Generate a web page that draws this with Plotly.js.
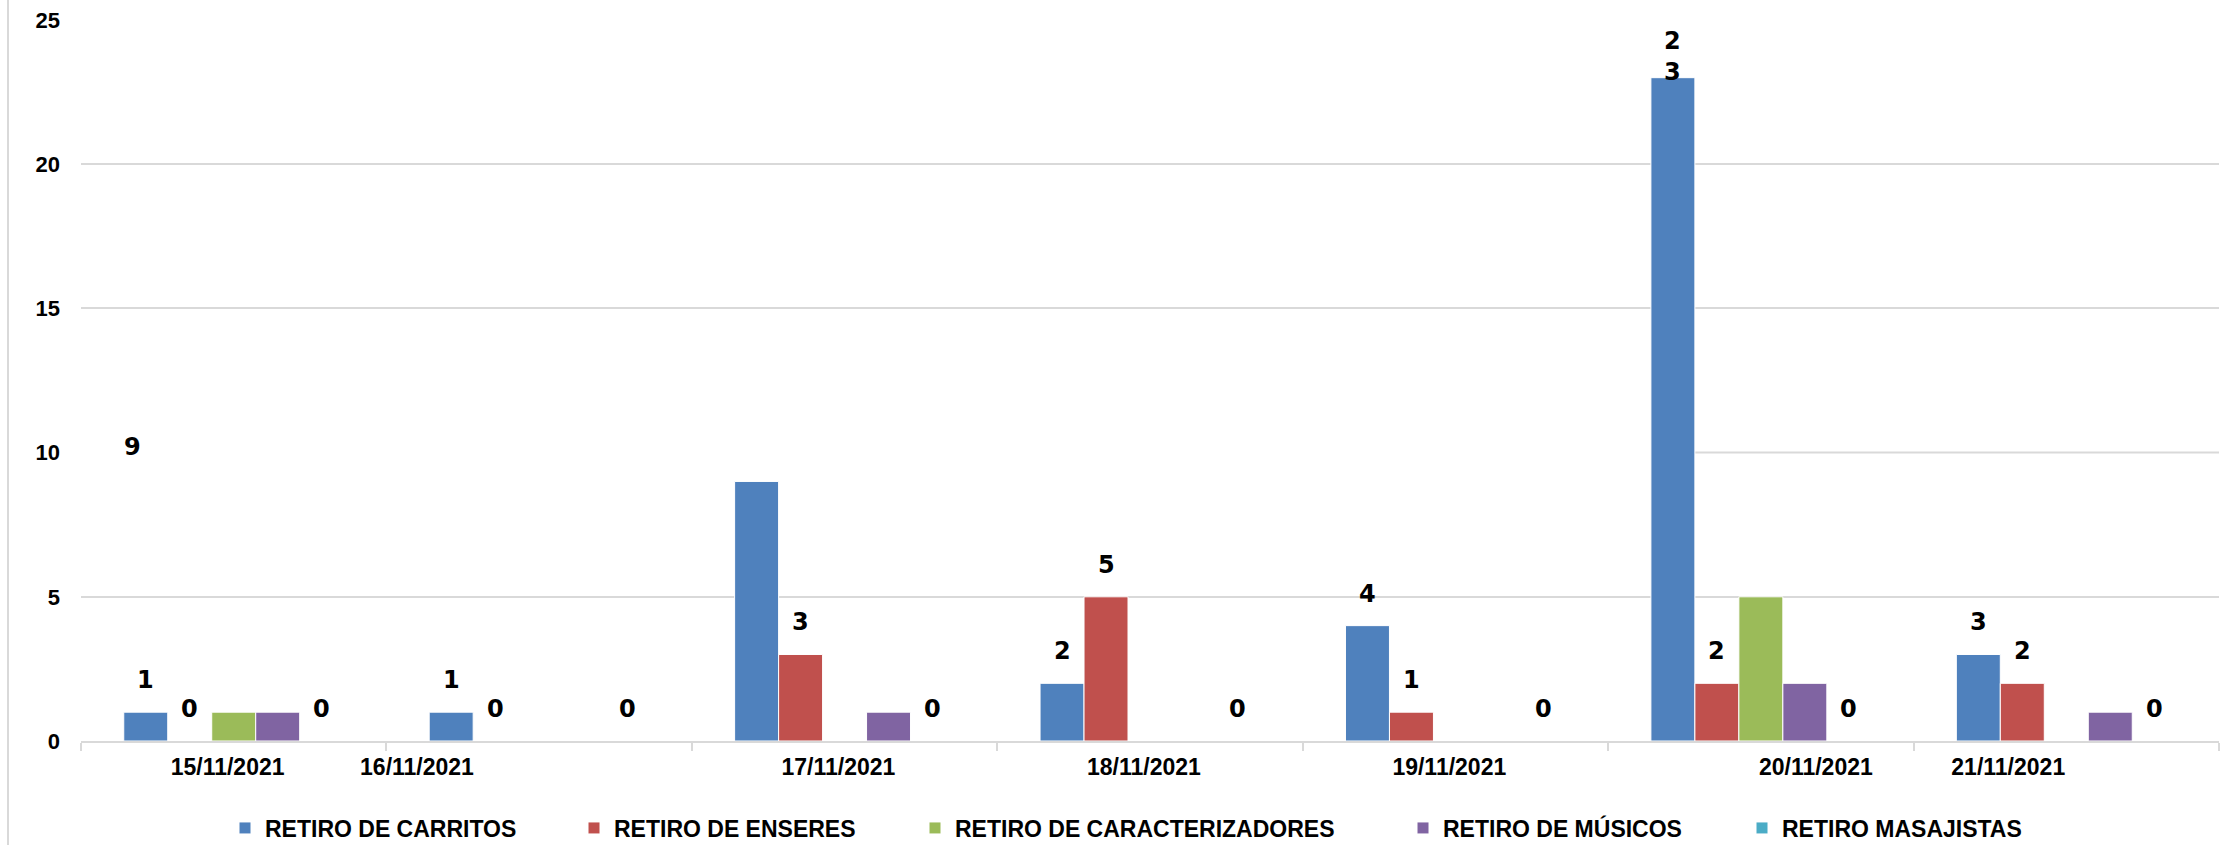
<!DOCTYPE html>
<html>
<head>
<meta charset="utf-8">
<script src="https://cdn.plot.ly/plotly-3.0.1.min.js"></script>
<style>
  html, body { margin: 0; padding: 0; background: #fff; }
  #chart { width: 2239px; height: 845px; }
</style>
</head>
<body>
<div id="chart"></div>
<script>
// ---- Data ----
const categories = ['15/11/2021', '16/11/2021', '17/11/2021', '18/11/2021', '19/11/2021', '20/11/2021', '21/11/2021'];
const carritos         = [1, 1, 9, 2, 4, 23, 3];
const enseres          = [0, 0, 3, 5, 1, 2, 2];
const caracterizadores = [1, 0, 0, 0, 0, 5, 0];
const musicos          = [1, 0, 1, 0, 0, 2, 1];
const masajistas       = [0, 0, 0, 0, 0, 0, 0];
const seriesNames = ['RETIRO DE CARRITOS', 'RETIRO DE ENSERES', 'RETIRO DE CARACTERIZADORES', 'RETIRO DE MÚSICOS', 'RETIRO MASAJISTAS'];
const yTicks = [0, 5, 10, 15, 20, 25];

// ---- Styling / layout ----
const colors = ['#4F81BD', '#C0504D', '#9BBB59', '#8064A2', '#4BACC6'];
const allSeries = [carritos, enseres, caracterizadores, musicos, masajistas];
const BARGAP = 0.28;
const NS = allSeries.length;
const W = (1 - BARGAP) / NS;               // bar width in category units
const xs = categories.map((_, i) => i);
const labelShift = [-0.02, -0.40, -0.02, -0.02, -0.02, 0.18, -0.19]; // where the source draws each date label
const legendLeftPx = [225, 574, 915, 1403, 1742];
const labelledSeries = [0, 1, 4];
const xTickFont = { family: 'Liberation Sans, Arial, sans-serif', size: 23, weight: 'bold', color: '#000' };
const yTickFont = { family: 'Liberation Sans, Arial, sans-serif', size: 22, weight: 'bold', color: '#000' };
const dataFont = { family: 'DejaVu Sans, Verdana, sans-serif', size: 24, weight: 'bold', color: '#000' };
const gridColor = '#D9D9D9';

const traces = allSeries.map((vals, k) => ({
  type: 'bar',
  x: xs,
  y: vals,
  name: seriesNames[k],
  marker: { color: colors[k], line: { color: '#FFFFFF', width: 1 } },
  legend: k === 0 ? 'legend' : 'legend' + (k + 1),
  hoverinfo: 'name+y'
}));

const annotations = [];
labelledSeries.forEach(k => {
  allSeries[k].forEach((v, i) => {
    let ann = {
      x: i + (k - (NS - 1) / 2) * W, y: v, xref: 'x', yref: 'y',
      text: String(v), showarrow: false, yanchor: 'middle', xanchor: 'center',
      yshift: 32, font: dataFont
    };
    if (k === 0 && i === 2) { ann.x = -0.33; ann.y = 10.2; ann.yshift = 0; }       // label drawn displaced in source
    if (k === 0 && i === 5) { ann.text = String(v).split('').join('<br>'); ann.yshift = 21; } // wrapped label
    annotations.push(ann);
  });
});

const layout = {
  width: 2239, height: 845,
  margin: { l: 81, r: 20, t: 20, b: 104, pad: 0 },
  paper_bgcolor: '#FFFFFF', plot_bgcolor: '#FFFFFF',
  barmode: 'group', bargap: BARGAP, bargroupgap: 0,
  xaxis: {
    range: [-0.5, categories.length - 0.5],
    tickmode: 'array',
    tickvals: xs.map(i => i + labelShift[i]),
    ticktext: categories,
    ticks: '',
    tickfont: xTickFont,
    ticklabelstandoff: 4,
    showline: true, linecolor: gridColor, linewidth: 2,
    showgrid: false, zeroline: false,
    minor: {
      tickmode: 'array',
      tickvals: categories.map((_, i) => i - 0.5).concat([categories.length - 0.5]),
      ticks: 'outside', ticklen: 8, tickwidth: 2, tickcolor: gridColor, showgrid: false
    },
    fixedrange: true
  },
  yaxis: {
    range: [0, 25],
    tickmode: 'array', tickvals: yTicks, ticktext: yTicks.map(String),
    ticks: '', tickfont: yTickFont, ticklabelstandoff: 20,
    showgrid: false, zeroline: false, showline: false,
    minor: {
      tickmode: 'array', tickvals: yTicks.filter(v => v !== 0 && v !== 10),
      ticks: '', showgrid: true, gridcolor: gridColor, gridwidth: 2
    },
    fixedrange: true
  },
  shapes: [
    { type: 'line', xref: 'x', yref: 'y', x0: 5 - 2 * W, x1: categories.length - 0.5, y0: 10, y1: 10,
      line: { color: gridColor, width: 2 }, layer: 'below' },
    { type: 'line', xref: 'paper', yref: 'paper', x0: -73 / 2138, x1: -73 / 2138, y0: -104 / 721, y1: 741 / 721,
      line: { color: gridColor, width: 2 }, layer: 'below' }
  ],
  annotations: annotations,
  showlegend: true
};

legendLeftPx.forEach((px, k) => {
  const key = k === 0 ? 'legend' : 'legend' + (k + 1);
  layout[key] = {
    orientation: 'h',
    xref: 'container', yref: 'container',
    x: px / 2239, xanchor: 'left',
    y: 17 / 845, yanchor: 'middle',
    bgcolor: 'rgba(0,0,0,0)', borderwidth: 0,
    font: { family: 'Liberation Sans, Arial, sans-serif', size: 23, weight: 'bold', color: '#000' },
    itemclick: false, itemdoubleclick: false
  };
});

Plotly.newPlot('chart', traces, layout, { displayModeBar: false, responsive: false });
</script>
</body>
</html>
